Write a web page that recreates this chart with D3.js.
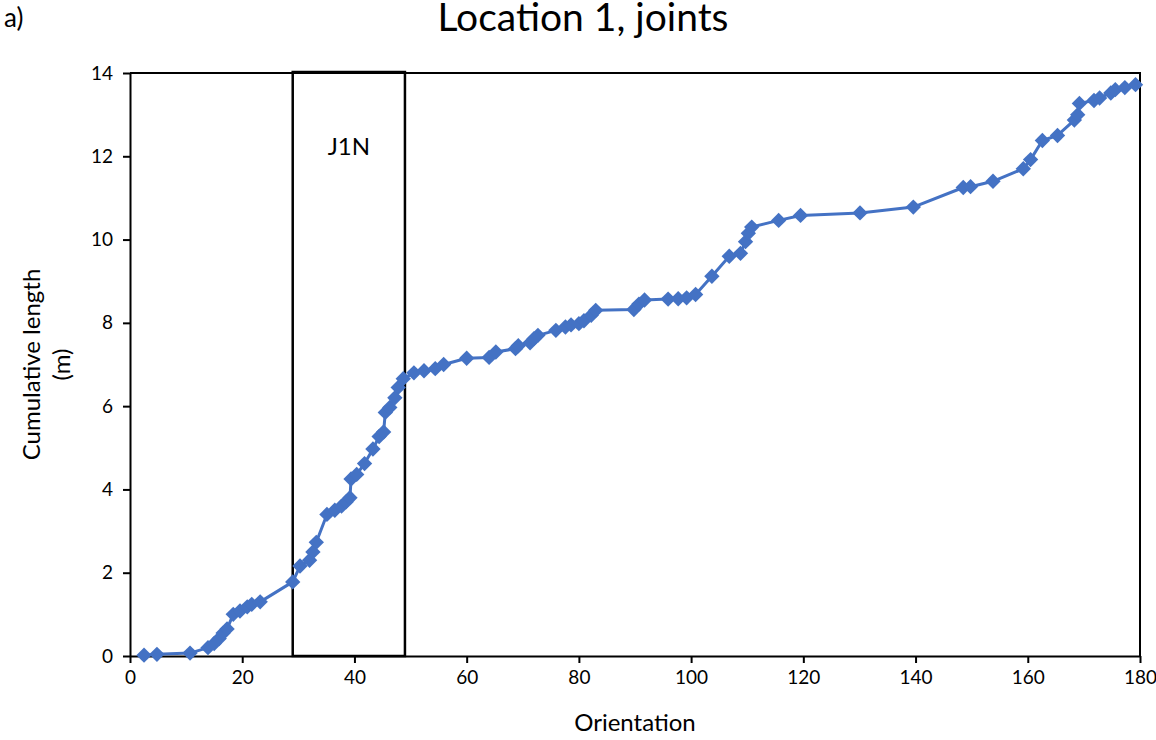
<!DOCTYPE html>
<html>
<head>
<meta charset="utf-8">
<script src="https://cdn.jsdelivr.net/npm/d3@7"></script>
<style>
  html, body { margin: 0; padding: 0; background: #fff; }
  svg { display: block; font-family: Lato, "Open Sans", "Liberation Sans", sans-serif; }
</style>
</head>
<body>
<svg id="chart" width="1156" height="740"></svg>
<script>
// Joint orientation (degrees) and running total of joint length (m)
const orientation = [
  2.5, 4.8, 10.7, 13.9, 15.0, 15.9, 16.6, 17.3, 18.4, 19.6, 20.9, 21.7, 23.2,
  29.0, 30.3, 32.0, 32.6, 33.2, 35.1, 36.5, 37.7, 38.5, 39.2, 39.4, 40.4, 41.8,
  43.3, 44.4, 45.2, 45.5, 46.3, 47.2, 47.8, 48.7, 50.6, 52.4, 54.4, 55.9, 60.0,
  64.0, 65.2, 68.7, 69.2, 71.3, 72.0, 72.7, 75.9, 77.6, 78.6, 80.0, 80.9, 82.2,
  83.0, 89.8, 90.7, 91.7, 95.9, 97.7, 99.2, 100.8, 103.7, 106.8, 108.8, 109.7,
  110.2, 110.8, 115.6, 119.5, 130.1, 139.6, 148.5, 149.8, 153.8, 159.2, 160.5,
  162.6, 165.3, 168.3, 168.9, 169.2, 171.8, 172.8, 174.8, 175.6, 177.3, 179.2
];
const cumulativeLength = [
  0.02, 0.04, 0.07, 0.20, 0.30, 0.42, 0.55, 0.65, 1.00, 1.08, 1.18, 1.24, 1.30,
  1.78, 2.16, 2.30, 2.50, 2.73, 3.40, 3.50, 3.60, 3.70, 3.80, 4.25, 4.36, 4.62,
  4.97, 5.27, 5.38, 5.85, 5.97, 6.20, 6.45, 6.66, 6.80, 6.85, 6.90, 7.00, 7.15,
  7.17, 7.30, 7.38, 7.45, 7.52, 7.62, 7.70, 7.82, 7.90, 7.95, 7.98, 8.05, 8.18,
  8.30, 8.32, 8.45, 8.55, 8.57, 8.58, 8.60, 8.68, 9.12, 9.60, 9.67, 9.95,
  10.15, 10.30, 10.46, 10.58, 10.64, 10.78, 11.25, 11.27, 11.40, 11.70, 11.92,
  12.38, 12.50, 12.87, 13.00, 13.27, 13.34, 13.40, 13.52, 13.60, 13.65, 13.72
];
const xTicks = [0, 20, 40, 60, 80, 100, 120, 140, 160, 180];
const yTicks = [0, 2, 4, 6, 8, 10, 12, 14];
// J1N joint set window: orientation range
const setName = "J1N";
const setRange = [29, 49];

const svg = d3.select("#chart");
const m = { left: 130, right: 1156 - 1140, top: 73, bottom: 740 - 656 };
const W = 1156 - m.left - m.right;
const H = 740 - m.top - m.bottom;

const x = d3.scaleLinear().domain([0, 180]).range([m.left, m.left + W]);
const y = d3.scaleLinear().domain([0, 14]).range([m.top + H, m.top]);

const color = "#4472C4";

// Panel label and title
svg.append("text").attr("x", 4).attr("y", 27).attr("font-size", 26).attr("fill", "#000").text("a)");
svg.append("text").attr("x", 583).attr("y", 31).attr("text-anchor", "middle")
  .attr("font-size", 39).attr("fill", "#000").text("Location 1, joints");

// Plot frame (top and right edges)
svg.append("path")
  .attr("d", `M${x(0)},${y(14)}H${x(180)}V${y(0)}`)
  .attr("fill", "none").attr("stroke", "#000").attr("stroke-width", 2);

// Axes
const xAxis = d3.axisBottom(x).tickValues(xTicks).tickSizeOuter(0).tickSizeInner(7).tickPadding(6);
const gx = svg.append("g").attr("transform", `translate(0,${y(0)})`).call(xAxis);
const yAxis = d3.axisLeft(y).tickValues(yTicks).tickSizeOuter(0).tickSizeInner(7).tickPadding(10);
const gy = svg.append("g").attr("transform", `translate(${x(0)},0)`).call(yAxis);
[gx, gy].forEach(g => {
  g.select(".domain").attr("stroke", "#000").attr("stroke-width", 2);
  g.selectAll(".tick line").attr("stroke", "#000").attr("stroke-width", 2);
  g.selectAll(".tick text").attr("font-size", 19).attr("fill", "#000")
    .attr("font-family", "Lato, 'Open Sans', sans-serif");
});
gx.selectAll(".tick text").attr("dy", "0.8em");

// Axis titles
svg.append("text").attr("x", x(90)).attr("y", 731).attr("text-anchor", "middle")
  .attr("font-size", 24).attr("fill", "#000").text("Orientation");
const yt = svg.append("text").attr("transform", `translate(40,${(y(0) + y(14)) / 2}) rotate(-90)`)
  .attr("text-anchor", "middle").attr("font-size", 24).attr("fill", "#000");
yt.append("tspan").attr("x", 0).attr("dy", 0).text("Cumulative length");
yt.append("tspan").attr("x", 0).attr("dy", 30).text("(m)");

// Joint-set box
svg.append("rect")
  .attr("x", x(setRange[0])).attr("y", y(14) - 1)
  .attr("width", x(setRange[1]) - x(setRange[0]))
  .attr("height", y(0) - y(14) + 1)
  .attr("fill", "none").attr("stroke", "#000").attr("stroke-width", 2.5);
svg.append("text").attr("x", (x(setRange[0]) + x(setRange[1])) / 2).attr("y", 155)
  .attr("text-anchor", "middle").attr("font-size", 24).attr("fill", "#000").text(setName);

// Series line and diamond markers
const pts = orientation.map((o, i) => [o, cumulativeLength[i]]);
svg.append("path").datum(pts)
  .attr("d", d3.line().x(d => x(d[0])).y(d => y(d[1])))
  .attr("fill", "none").attr("stroke", color).attr("stroke-width", 3).attr("stroke-linejoin", "round");

const diamond = d3.symbol().type(d3.symbolSquare).size(118);
svg.append("g").selectAll("path").data(pts).join("path")
  .attr("d", diamond)
  .attr("transform", d => `translate(${x(d[0])},${y(d[1])}) rotate(45)`)
  .attr("fill", color);
</script>
</body>
</html>
